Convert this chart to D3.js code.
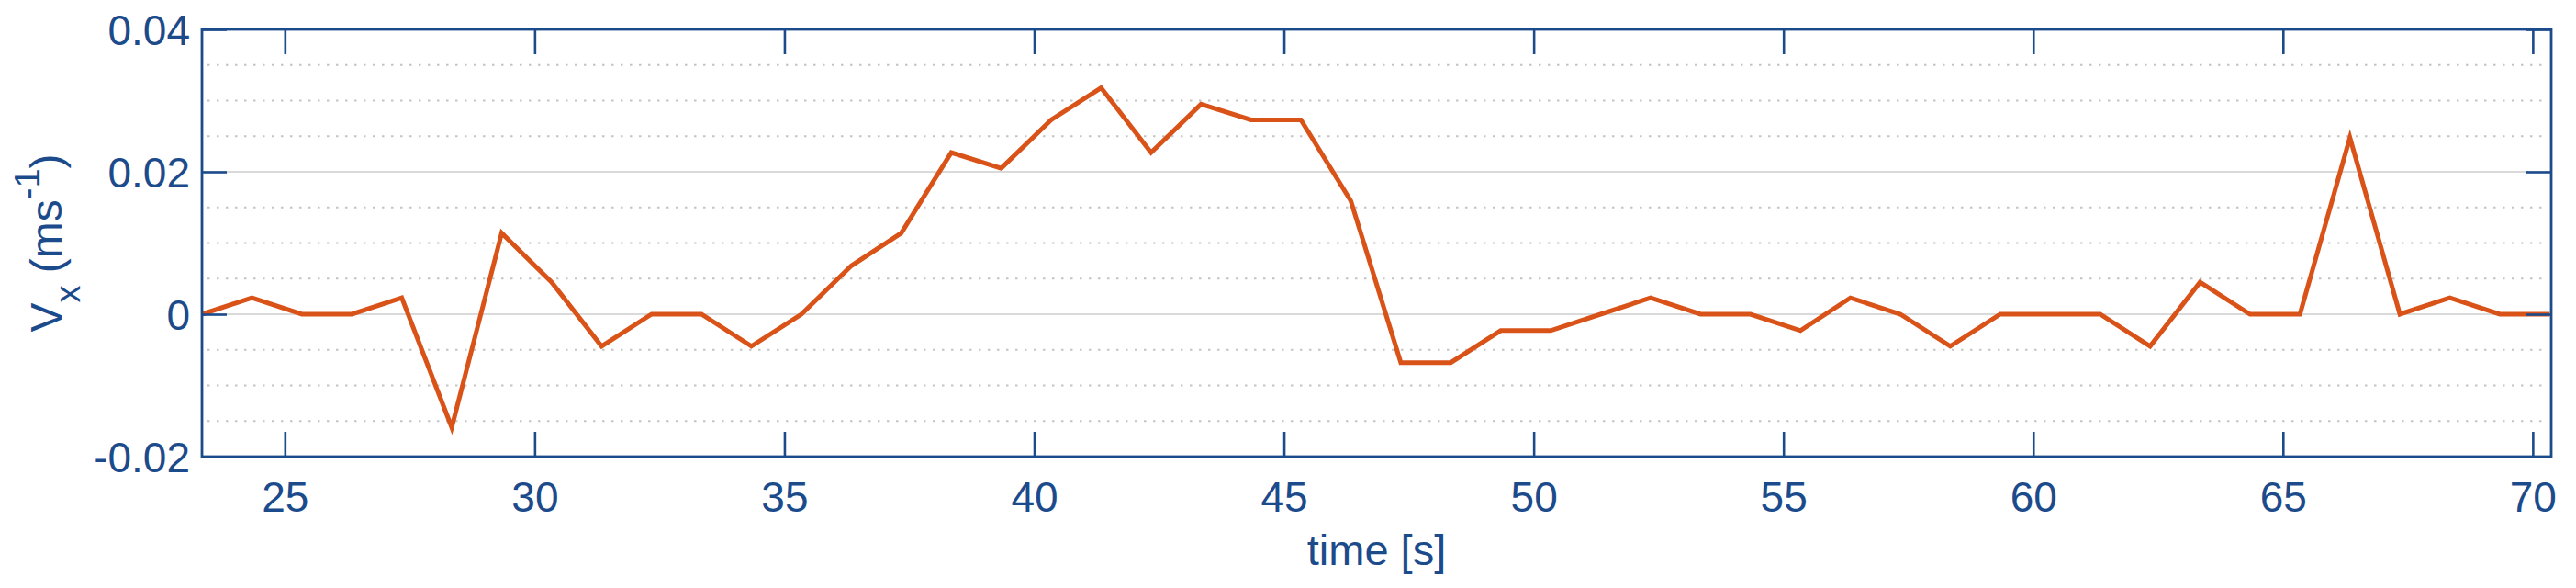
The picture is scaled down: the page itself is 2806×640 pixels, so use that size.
<!DOCTYPE html>
<html>
<head>
<meta charset="utf-8">
<script src="https://cdn.jsdelivr.net/npm/d3@7"></script>
<style>
  html, body { margin: 0; padding: 0; background: #ffffff; }
  svg { display: block; }
  text { font-family: "Liberation Sans", Arial, Helvetica, sans-serif; fill: #1c4b8c; }
</style>
</head>
<body>
<svg id="chart" width="2806" height="640"></svg>
<script>
// ---- data ----
const times = [23.34, 24.34, 25.34, 26.34, 27.34, 28.34, 29.34, 30.34, 31.34, 32.34,
               33.34, 34.34, 35.34, 36.34, 37.34, 38.34, 39.34, 40.34, 41.34, 42.34,
               43.34, 44.34, 45.34, 46.34, 47.34, 48.34, 49.34, 50.34, 51.34, 52.34,
               53.34, 54.34, 55.34, 56.34, 57.34, 58.34, 59.34, 60.34, 61.34, 62.34,
               63.34, 64.34, 65.34, 66.34, 67.34, 68.34, 69.34, 70.34];
const vx = [0, 0.0023, 0, 0, 0.0023, -0.0159, 0.0114, 0.0045, -0.0045, 0,
            0, -0.0045, 0, 0.0068, 0.0114, 0.0227, 0.0205, 0.0273, 0.0318, 0.0227,
            0.0295, 0.0273, 0.0273, 0.0159, -0.0068, -0.0068, -0.0023, -0.0023, 0, 0.0023,
            0, 0, -0.0023, 0.0023, 0, -0.0045, 0, 0, 0, -0.0045,
            0.0045, 0, 0, 0.0248, 0, 0.0023, 0, 0];
const xTicks = [25, 30, 35, 40, 45, 50, 55, 60, 65, 70];
const yTicks = [-0.02, 0, 0.02, 0.04];
const yTickLabels = ["-0.02", "0", "0.02", "0.04"];
const yMinorGrid = [-0.015, -0.01, -0.005, 0.005, 0.01, 0.015, 0.025, 0.03, 0.035];
const xDomain = [23.34, 70.37];
const yDomain = [-0.02, 0.04];

// ---- layout ----
const margin = {left: 220, top: 32, right: 27, bottom: 143};
const W = 2806, H = 640;
const iw = W - margin.left - margin.right;
const ih = H - margin.top - margin.bottom;
const axisColor = "#1c4b8c";
const lineColor = "#d95319";
const fontSize = 46;
const tickLen = 27;

const svg = d3.select("#chart");
const g = svg.append("g").attr("transform", `translate(${margin.left},${margin.top})`);

const x = d3.scaleLinear().domain(xDomain).range([0, iw]);
const y = d3.scaleLinear().domain(yDomain).range([ih, 0]);

// minor dotted grid
g.append("g").selectAll("line").data(yMinorGrid).join("line")
  .attr("x1", 6).attr("x2", iw - 6)
  .attr("y1", d => y(d)).attr("y2", d => y(d))
  .attr("stroke", "#c4c4c4").attr("stroke-width", 2.2)
  .attr("stroke-dasharray", "2.5,7.5");

// major grid
g.append("g").selectAll("line").data(yTicks.filter(d => d > yDomain[0] && d < yDomain[1])).join("line")
  .attr("x1", 0).attr("x2", iw)
  .attr("y1", d => y(d)).attr("y2", d => y(d))
  .attr("stroke", "#dadada").attr("stroke-width", 2);

// data line
const line = d3.line().x((d, i) => x(times[i])).y(d => y(d));
g.append("path").datum(vx)
  .attr("d", line)
  .attr("fill", "none")
  .attr("stroke", lineColor)
  .attr("stroke-width", 5)
  .attr("stroke-linejoin", "miter")
  .attr("stroke-miterlimit", 10);

// axes (inward ticks on all four sides)
function styleAxis(sel) {
  sel.select(".domain").remove();
  sel.selectAll(".tick line").attr("stroke", axisColor).attr("stroke-width", 2.6);
  sel.selectAll(".tick text").attr("fill", axisColor)
     .style("font-size", fontSize + "px")
     .style("font-family", '"Liberation Sans", Arial, Helvetica, sans-serif');
}

const xBottom = g.append("g").attr("transform", `translate(0,${ih})`)
  .call(d3.axisBottom(x).tickValues(xTicks).tickSize(-tickLen).tickPadding(0).tickFormat(d3.format("d")));
styleAxis(xBottom);
xBottom.selectAll(".tick text").attr("y", 60).attr("dy", null);

const xTop = g.append("g")
  .call(d3.axisTop(x).tickValues(xTicks).tickSize(-tickLen).tickFormat(""));
styleAxis(xTop);

const yLeft = g.append("g")
  .call(d3.axisLeft(y).tickValues(yTicks).tickSize(-tickLen).tickPadding(0)
        .tickFormat((d, i) => yTickLabels[i]));
styleAxis(yLeft);
yLeft.selectAll(".tick text").attr("x", -13).attr("dy", "0.36em");

const yRight = g.append("g").attr("transform", `translate(${iw},0)`)
  .call(d3.axisRight(y).tickValues(yTicks).tickSize(-tickLen).tickFormat(""));
styleAxis(yRight);

// frame
g.append("rect").attr("x", 0).attr("y", 0).attr("width", iw).attr("height", ih)
  .attr("fill", "none").attr("stroke", axisColor).attr("stroke-width", 2.8);

// axis titles
svg.append("text")
  .attr("x", margin.left + iw / 2).attr("y", 615)
  .attr("text-anchor", "middle")
  .style("font-size", "47px")
  .text("time [s]");

const yl = svg.append("text")
  .attr("transform", `translate(67,${margin.top + ih / 2}) rotate(-90)`)
  .attr("text-anchor", "middle")
  .style("font-size", "48px");
yl.append("tspan").text("V");
yl.append("tspan").attr("dy", 20).style("font-size", "38px").text("x");
yl.append("tspan").attr("dy", -20).text(" (ms");
yl.append("tspan").attr("dy", -24).style("font-size", "38px").text("-1");
yl.append("tspan").attr("dy", 24).text(")");
</script>
</body>
</html>
